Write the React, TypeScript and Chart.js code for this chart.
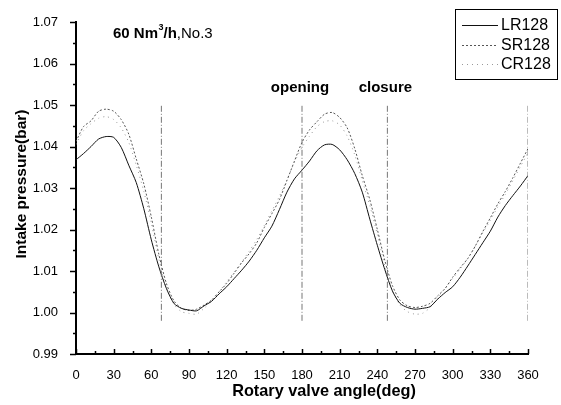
import { useEffect, useRef } from 'react';
import { Chart, registerables } from 'chart.js';

Chart.register(...registerables);

const angles = [0, 6, 12, 18, 24, 30, 36, 42, 48, 54, 60, 66, 72, 78, 84, 90, 96, 102, 108, 114, 120, 126, 132, 138, 144, 150, 156, 162, 168, 174, 180, 186, 192, 198, 204, 210, 216, 222, 228, 234, 240, 246, 252, 258, 264, 270, 276, 282, 288, 294, 300, 306, 312, 318, 324, 330, 336, 342, 348, 354, 360];

const lr128 = [1.0368, 1.0383, 1.0400, 1.0418, 1.0424, 1.0422, 1.0398, 1.0355, 1.0313, 1.0250, 1.0175, 1.0110, 1.0058, 1.0022, 1.0010, 1.0006, 1.0004, 1.0016, 1.0027, 1.0045, 1.0062, 1.0082, 1.0102, 1.0124, 1.0150, 1.0180, 1.0208, 1.0248, 1.0290, 1.0322, 1.0343, 1.0365, 1.0390, 1.0404, 1.0405, 1.0392, 1.0368, 1.0335, 1.0290, 1.0225, 1.0162, 1.0103, 1.0052, 1.0022, 1.0012, 1.0008, 1.0010, 1.0014, 1.0032, 1.0048, 1.0062, 1.0085, 1.0112, 1.0140, 1.0168, 1.0196, 1.0230, 1.0258, 1.0282, 1.0305, 1.0330];

const sr128 = [1.0412, 1.0448, 1.0462, 1.0485, 1.0490, 1.0485, 1.0465, 1.0430, 1.0370, 1.0310, 1.0230, 1.0140, 1.0070, 1.0028, 1.0010, 1.0005, 1.0008, 1.0018, 1.0030, 1.0050, 1.0070, 1.0095, 1.0120, 1.0142, 1.0168, 1.0205, 1.0238, 1.0272, 1.0318, 1.0365, 1.0410, 1.0440, 1.0460, 1.0478, 1.0482, 1.0470, 1.0445, 1.0395, 1.0330, 1.0272, 1.0200, 1.0125, 1.0065, 1.0030, 1.0016, 1.0012, 1.0015, 1.0022, 1.0040, 1.0058, 1.0085, 1.0108, 1.0130, 1.0160, 1.0195, 1.0228, 1.0262, 1.0292, 1.0325, 1.0360, 1.0395];

const cr128 = [1.0405, 1.0438, 1.0455, 1.0468, 1.0472, 1.0465, 1.0445, 1.0410, 1.0355, 1.0292, 1.0215, 1.0128, 1.0060, 1.0020, 1.0002, 0.9998, 0.9996, 1.0010, 1.0028, 1.0050, 1.0074, 1.0098, 1.0122, 1.0148, 1.0176, 1.0210, 1.0245, 1.0280, 1.0320, 1.0362, 1.0398, 1.0425, 1.0448, 1.0460, 1.0462, 1.0452, 1.0425, 1.0380, 1.0318, 1.0258, 1.0188, 1.0112, 1.0052, 1.0018, 1.0002, 0.9996, 0.9998, 1.0012, 1.0035, 1.0058, 1.0082, 1.0105, 1.0130, 1.0160, 1.0192, 1.0222, 1.0255, 1.0285, 1.0318, 1.0352, 1.0385];

const markerAngles = [68, 180, 248, 360];
const markerRange = [0.998, 1.05];
const markerLabels = [
  { angle: 180, text: 'opening' },
  { angle: 248, text: 'closure' },
];
const seriesNames = ['LR128', 'SR128', 'CR128'];
const xTitle = 'Rotary valve angle(deg)';
const yTitle = 'Intake pressure(bar)';

const FONT = 'Arial, "Liberation Sans", sans-serif';

const styles = [
  { color: '#111', dash: [] as number[], width: 1 },
  { color: '#555', dash: [2, 2], width: 1 },
  { color: '#999', dash: [1, 4], width: 1 },
];

const decorPlugin = {
  id: 'decor',
  afterDraw(chart: any) {
    const ctx = chart.ctx;
    const xs = chart.scales.x;
    const ys = chart.scales.y;
    const area = chart.chartArea;
    ctx.save();
    ctx.strokeStyle = '#000';
    ctx.lineWidth = 1.5;
    // y ticks (outward)
    for (let v = 0.99; v <= 1.0701; v += 0.005) {
      const y = Math.round(ys.getPixelForValue(v)) + 0.5;
      const major = Math.abs(Math.round(v * 100) - v * 100) < 1e-6;
      ctx.beginPath();
      ctx.moveTo(area.left, y);
      ctx.lineTo(area.left - (major ? 6 : 3), y);
      ctx.stroke();
    }
    // x ticks (inward)
    for (let a = 0; a <= 360; a += 15) {
      const x = Math.round(xs.getPixelForValue(a)) + 0.5;
      const major = a % 30 === 0;
      ctx.beginPath();
      ctx.moveTo(x, area.bottom);
      ctx.lineTo(x, area.bottom - (major ? 5 : 3));
      ctx.stroke();
    }
    ctx.fillStyle = '#000';
    // axis titles
    ctx.font = `bold 16.3px ${FONT}`;
    ctx.textAlign = 'center';
    ctx.textBaseline = 'middle';
    ctx.fillText(xTitle, 324, 392);
    ctx.save();
    ctx.translate(22, 184);
    ctx.rotate(-Math.PI / 2);
    ctx.font = `bold 15.5px ${FONT}`;
    ctx.fillText(yTitle, 0, 0);
    ctx.restore();
    // title
    ctx.textBaseline = 'alphabetic';
    ctx.textAlign = 'left';
    let tx = 113;
    const ty = 38;
    ctx.font = `bold 15px ${FONT}`;
    ctx.fillText('60 Nm', tx, ty);
    tx += ctx.measureText('60 Nm').width;
    ctx.font = `bold 9px ${FONT}`;
    ctx.fillText('3', tx + 0.5, ty - 8);
    tx += ctx.measureText('3').width + 0.5;
    ctx.font = `bold 15px ${FONT}`;
    ctx.fillText('/h', tx, ty);
    tx += ctx.measureText('/h').width;
    ctx.font = `15px ${FONT}`;
    ctx.fillText(',No.3', tx, ty);
    // opening / closure
    ctx.font = `bold 15px ${FONT}`;
    ctx.textAlign = 'center';
    for (const m of markerLabels) {
      ctx.fillText(m.text, xs.getPixelForValue(m.angle) - 2, 92);
    }
    // legend
    ctx.lineWidth = 1;
    ctx.strokeStyle = '#000';
    ctx.strokeRect(455.5, 9.5, 102, 70);
    ctx.font = `16px ${FONT}`;
    ctx.textAlign = 'left';
    ctx.textBaseline = 'middle';
    seriesNames.forEach((name, i) => {
      const y = 25 + i * 19.5;
      const s = styles[i];
      ctx.strokeStyle = s.color;
      ctx.setLineDash(s.dash);
      ctx.beginPath();
      ctx.moveTo(462, Math.round(y) + 0.5);
      ctx.lineTo(498, Math.round(y) + 0.5);
      ctx.stroke();
      ctx.setLineDash([]);
      ctx.fillStyle = '#000';
      ctx.fillText(name, 501, y + 1);
    });
    ctx.restore();
  },
};

export default function App() {
  const ref = useRef<HTMLCanvasElement>(null);
  useEffect(() => {
    document.body.style.margin = '0';
    const canvas = ref.current!;
    const series = [lr128, sr128, cr128].map((vals, i) => ({
      label: seriesNames[i],
      data: angles.map((a, j) => ({ x: a, y: vals[j] })),
      borderColor: styles[i].color,
      borderDash: styles[i].dash,
      borderWidth: styles[i].width,
      pointRadius: 0,
      tension: 0.25,
      fill: false,
    }));
    const markers = markerAngles.map((a) => ({
      label: 'marker' + a,
      data: [
        { x: a, y: markerRange[0] },
        { x: a, y: markerRange[1] },
      ],
      borderColor: '#777',
      borderDash: [6, 2, 1, 2],
      borderWidth: 1,
      pointRadius: 0,
      fill: false,
    }));
    const chart = new Chart(canvas, {
      type: 'line',
      data: { datasets: [...markers, ...series] as any },
      plugins: [decorPlugin],
      options: {
        animation: false,
        responsive: false,
        maintainAspectRatio: false,
        layout: { padding: { left: 0, top: 22, right: 33, bottom: 0 } },
        plugins: { legend: { display: false }, tooltip: { enabled: false } },
        scales: {
          x: {
            type: 'linear',
            min: 0,
            max: 360,
            ticks: {
              stepSize: 30,
              color: '#000',
              padding: 6,
              maxRotation: 0,
              font: { family: FONT, size: 13 },
            },
            grid: { display: false },
            border: { display: true, color: '#000', width: 2 },
            afterFit: (s: any) => {
              s.height = 51;
            },
          },
          y: {
            type: 'linear',
            min: 0.99,
            max: 1.07,
            ticks: {
              stepSize: 0.01,
              color: '#000',
              padding: 10,
              font: { family: FONT, size: 13 },
              callback: (v: any) => Number(v).toFixed(2),
            },
            grid: { display: false },
            border: { display: true, color: '#000', width: 2 },
            afterFit: (s: any) => {
              s.width = 76;
            },
          },
        },
      },
    });
    return () => chart.destroy();
  }, []);
  return <canvas ref={ref} width={561} height={405} style={{ display: 'block' }} />;
}
